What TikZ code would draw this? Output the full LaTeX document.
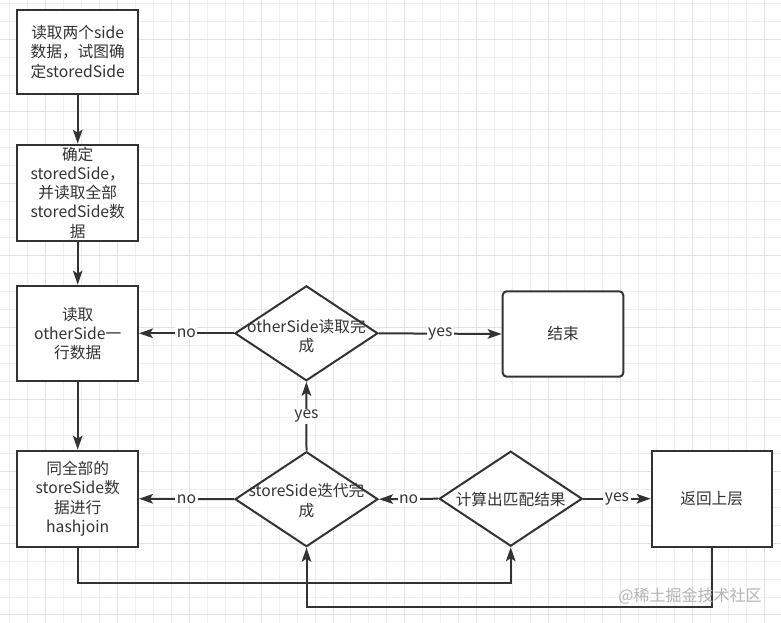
\documentclass[tikz,border=0pt]{standalone}
\usepackage{fontspec}
\setmainfont{Noto Sans CJK SC}
\usetikzlibrary{shapes.geometric,arrows.meta}
\definecolor{ink}{HTML}{333333}
\definecolor{gridminor}{HTML}{EFEFEF}
\definecolor{gridmajor}{HTML}{E2E2E2}
\definecolor{wm}{HTML}{B4B4B4}
\begin{document}
\begin{tikzpicture}[x=1pt,y=-1pt,
  font=\fontsize{15.7}{19.2}\selectfont,
  proc/.style={draw=ink,line width=2pt,fill=white,minimum width=120.5pt,inner sep=0pt,align=center,text=ink},
  dia/.style={diamond,draw=ink,line width=2pt,fill=white,minimum width=143pt,minimum height=95pt,inner sep=0pt},
  dtext/.style={align=center,text=ink,inner sep=0pt},
  conn/.style={draw=ink,line width=2pt,-{Stealth[length=14pt,width=9.5pt,inset=3pt]}},
  lbl/.style={fill=white,text=ink,inner sep=1.5pt}
]
\useasboundingbox (0,0) rectangle (781,623);
\fill[white] (0,0) rectangle (781,623);
% grid
\foreach \i in {0,...,43}{\pgfmathsetmacro\gx{9.54+17.97*\i}\draw[gridminor,line width=1pt] (\gx,0) -- (\gx,623);}
\foreach \j in {0,...,34}{\pgfmathsetmacro\gy{4+17.97*\j}\draw[gridminor,line width=1pt] (0,\gy) -- (781,\gy);}
\foreach \i in {2,6,...,42}{\pgfmathsetmacro\gx{9.54+17.97*\i}\draw[gridmajor,line width=1pt] (\gx,0) -- (\gx,623);}
\foreach \j in {2,6,...,34}{\pgfmathsetmacro\gy{4+17.97*\j}\draw[gridmajor,line width=1pt] (0,\gy) -- (781,\gy);}

% nodes
\node[proc,minimum height=84pt] (b1) at (77.7,52) {读取两个side\\数据，试图确\\定storedSide};
\node[proc,minimum height=96pt] (b2) at (77.7,192.7) {确定\\storedSide，\\并读取全部\\storedSide数\\据};
\node[proc,minimum height=95.3pt] (b3) at (77.7,333.3) {读取\\otherSide一\\行数据};
\node[proc,minimum height=96pt] (b4) at (77.7,498.7) {同全部的\\storeSide数\\据进行\\hashjoin};
\node[dia] (d1) at (306.4,333.3) {};
\node[dtext] (d1t) at (306.4,336) {otherSide读取完\\成};
\node[dia] (d2) at (306.5,499.2) {};
\node[dtext] (d2t) at (306.5,500.5) {storeSide迭代完\\成};
\node[dia] (d3) at (510.7,498.7) {};
\node[dtext] (d3t) at (510.7,499.5) {计算出匹配结果};
\node[proc,rounded corners=4pt,minimum height=85.4pt,minimum width=120.6pt] (e) at (563,334) {结束};
\node[proc,minimum height=96pt,minimum width=120pt] (r) at (711.7,498.7) {返回上层};

% connectors
\draw[conn] (b1) -- (b2);
\draw[conn] (b2) -- (b3);
\draw[conn] (b3) -- (b4);
\draw[conn] (d1.west) -- node[lbl] (l1) {no} (b3.east);
\draw[conn] (d1.east) -- node[lbl] (l2) {yes} (e.west);
\draw[conn] (d2.north) -- node[lbl] (l3) {yes} (d1.south);
\draw[conn] (d2.west) -- node[lbl] (l4) {no} (b4.east);
\draw[conn] (d3.west) -- node[lbl] (l5) {no} (d2.east);
\draw[conn] (d3.east) -- node[lbl] (l6) {yes} (r.west);
\coordinate (c1) at (77.7,583.3);
\coordinate (c2) at (712.3,606.7);
\draw[conn] (b4.south) -- (c1) -| (d3.south);
\draw[conn] (r.south -| c2) -- (c2) -| (d2.south);

% watermark
\node[text=wm,inner sep=0pt,font=\fontsize{16}{19}\selectfont] (wmk) at (690,596) {@稀土掘金技术社区};
\end{tikzpicture}
\end{document}
